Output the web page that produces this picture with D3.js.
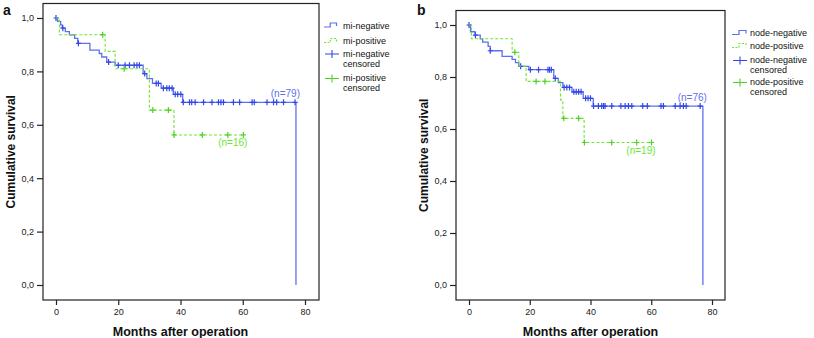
<!DOCTYPE html>
<html>
<head>
<meta charset="utf-8">
<script src="https://cdn.jsdelivr.net/npm/d3@7"></script>
<style>
body { margin: 0; background: #fff; }
svg { display: block; font-family: "Liberation Sans", Arial, Helvetica, sans-serif; }
</style>
</head>
<body>
<svg id="chart" width="814" height="338"></svg>
<script>
// values: [months, cumulative survival]
const xTicks = [0, 20, 40, 60, 80];
const yTicks = [0, 0.2, 0.4, 0.6, 0.8, 1.0];

// panel a - micrometastasis
const miNegSteps = [[0, 1], [0.5, 0.987], [1.5, 0.974], [2, 0.962], [3, 0.949], [4.3, 0.937], [6, 0.924], [7, 0.905],
    [10.9, 0.880], [13.9, 0.867], [14.7, 0.854], [16.3, 0.835], [19, 0.823], [28, 0.792], [29.2, 0.773], [31, 0.755],
    [33.8, 0.737], [37.7, 0.714], [40.7, 0.684], [77.1, 0]];
const miNegCensored = [0, 2.2, 7.2, 16.9, 20, 22.2, 23.6, 25.1, 26, 26.8, 28.5, 32.2, 32.9, 34.5, 35.6, 36.4, 37.3,
    38.3, 39.1, 40.1, 40.9, 42.9, 43.6, 44.7, 47.4, 50.1, 52.2, 53, 53.8, 57, 59, 63, 63.7, 67.8, 69.9, 70.9, 73.1, 76.8];
const miPosSteps = [[0, 1], [1.1, 0.9375], [15.8, 0.875], [19, 0.81], [30, 0.655], [37.9, 0.562]];
const miPosCensored = [15, 21.9, 31.1, 36.1, 37.9, 47, 55.2, 60.2];

// panel b - nodal status
const nodeNegSteps = [[0, 1], [0.5, 0.974], [2, 0.961], [3.7, 0.947], [4.5, 0.934], [6.3, 0.918], [7, 0.901],
    [10.9, 0.879], [14.2, 0.868], [15.3, 0.855], [16.4, 0.841], [19.7, 0.828], [27.9, 0.795], [29.4, 0.778],
    [30.9, 0.760], [33.9, 0.743], [37.6, 0.718], [40.9, 0.688], [77, 0]];
const nodeNegCensored = [0, 2.1, 7, 17, 20.2, 22.9, 26, 26.5, 27.1, 28.4, 31.3, 32.2, 33.1, 34.5, 35.3, 36.1, 36.9,
    38.4, 39.2, 40, 41, 42.6, 43.7, 44.3, 44.8, 47, 50, 51.4, 52.5, 53.6, 57.2, 58.7, 63.2, 64, 67.9, 69.5, 70.6, 71.5, 76.1];
const nodePosSteps = [[0, 1], [0.8, 0.947], [14.2, 0.895], [16.4, 0.842], [18.8, 0.783], [30.1, 0.712], [30.9, 0.641], [37.9, 0.548]];
const nodePosCensored = [15.1, 22.1, 25, 31.2, 36.1, 38, 47, 55.2, 60.1];

const panelLabels = ['a', 'b'];
const nLabels = [['(n=79)', '(n=16)'], ['(n=76)', '(n=19)']];
const legendA = ['mi-negative', 'mi-positive', 'mi-negative\ncensored', 'mi-positive\ncensored'];
const legendB = ['node-negative', 'node-positive', 'node-negative\ncensored', 'node-positive\ncensored'];

const BLUE = '#5f70ee', BLUE_MARK = '#3347e4';
const GREEN = '#6ee636', GREEN_MARK = '#4fd12a';
const fmt = v => d3.format('.1f')(v).replace('.', ',');

const svg = d3.select('#chart');

function survAt(steps, t) {
    let s = steps[0][1];
    steps.forEach(d => { if (d[0] <= t) s = d[1]; });
    return s;
}

function drawPanel(p) {
    const g = svg.append('g');
    const x = d3.scaleLinear().domain([0, 80]).range(p.xr);
    const y = d3.scaleLinear().domain([0, 1]).range(p.yr);

    g.append('rect')
        .attr('x', p.box[0]).attr('y', p.box[1])
        .attr('width', p.box[2] - p.box[0]).attr('height', p.box[3] - p.box[1])
        .attr('fill', 'none').attr('stroke', '#222').attr('stroke-width', 1.2);

    const ya = g.append('g')
        .attr('transform', `translate(${p.box[0]},0)`)
        .call(d3.axisLeft(y).tickValues(yTicks).tickFormat(fmt).tickSize(6).tickPadding(3));
    ya.select('.domain').remove();
    ya.selectAll('line').attr('stroke', '#222').attr('stroke-width', 1.2);
    ya.selectAll('text').attr('font-size', 9).attr('fill', '#222').attr('font-family', null);

    const xa = g.append('g')
        .attr('transform', `translate(0,${p.box[3]})`)
        .call(d3.axisBottom(x).tickValues(xTicks).tickSize(5).tickPadding(4));
    xa.select('.domain').remove();
    xa.selectAll('line').attr('stroke', '#222').attr('stroke-width', 1.2);
    xa.selectAll('text').attr('font-size', 9).attr('fill', '#222').attr('font-family', null);

    g.append('text')
        .attr('x', (p.xr[0] + p.xr[1]) / 2).attr('y', 335.5)
        .attr('text-anchor', 'middle').attr('font-weight', 'bold').attr('font-size', 12.5)
        .attr('fill', '#111')
        .text('Months after operation');

    g.append('text')
        .attr('transform', `translate(${p.ytitleX},${(p.box[1] + p.box[3]) / 2}) rotate(-90)`)
        .attr('text-anchor', 'middle').attr('font-weight', 'bold').attr('font-size', 12)
        .attr('fill', '#111')
        .text('Cumulative survival');

    g.append('text')
        .attr('x', p.labelX).attr('y', 15)
        .attr('font-weight', 'bold').attr('font-size', 14).attr('fill', '#111')
        .text(p.label);

    const line = d3.line().x(d => x(d[0])).y(d => y(d[1])).curve(d3.curveStepAfter);

    p.series.forEach(s => {
        const pts = s.steps.slice();
        const last = pts[pts.length - 1];
        if (s.end > last[0]) pts.push([s.end, last[1]]);
        g.append('path')
            .attr('d', line(pts))
            .attr('fill', 'none')
            .attr('stroke', s.color)
            .attr('stroke-width', s.dash ? 1.1 : 1.3)
            .attr('stroke-dasharray', s.dash ? '3,2' : null);

        g.append('g').selectAll('path')
            .data(s.censored)
            .join('path')
            .attr('d', t => {
                const cx = x(t), cy = y(survAt(s.steps, t));
                return `M${cx - 2.5},${cy}H${cx + 2.5}M${cx},${cy - 3}V${cy + 3}`;
            })
            .attr('stroke', s.mark)
            .attr('stroke-width', 1.2);

        const endS = survAt(s.steps, s.end - 0.01);
        g.append('text')
            .attr('x', x(s.end) + 4)
            .attr('y', y(endS) + (s.dash ? 11.5 : -5))
            .attr('text-anchor', 'end').attr('font-size', 10).attr('fill', s.color)
            .text(s.n);
    });

    // legend
    const lg = g.append('g').attr('transform', `translate(${p.legend[0]},${p.legend[1]})`);
    p.legendText.forEach((txt, i) => {
        const yy = p.rowY[i];
        const col = i % 2 === 0 ? BLUE : GREEN;
        if (i < 2) {
            lg.append('path')
                .attr('d', `M0,${yy + 2}H${p.sampleW * 0.5}V${yy - 2}H${p.sampleW}V${yy + 1}`)
                .attr('fill', 'none').attr('stroke', col).attr('stroke-width', 1.2)
                .attr('stroke-dasharray', i === 1 ? '2,1.5' : null);
        } else {
            lg.append('path')
                .attr('d', `M1,${yy + 1}H15M8,${yy - 3}V${yy + 5}`)
                .attr('stroke', i === 2 ? BLUE_MARK : GREEN_MARK).attr('stroke-width', 1.1);
        }
        txt.split('\n').forEach((part, k) => {
            lg.append('text')
                .attr('x', p.legendTextX).attr('y', yy + 3.5 + k * 10)
                .attr('font-size', 9).attr('fill', '#111')
                .text(part);
        });
    });
}

drawPanel({
    label: panelLabels[0], labelX: 3,
    xr: [56, 305], yr: [285, 18], box: [43, 3.5, 319, 300],
    ytitleX: 14.5,
    legend: [324, 25], legendTextX: 19, sampleW: 12.5, rowY: [0, 15.5, 28, 52.5], legendText: legendA,
    series: [
        { steps: miNegSteps, censored: miNegCensored, end: 77.1, color: BLUE, mark: BLUE_MARK, dash: false, n: nLabels[0][0] },
        { steps: miPosSteps, censored: miPosCensored, end: 60.2, color: GREEN, mark: GREEN_MARK, dash: true, n: nLabels[0][1] }
    ]
});

drawPanel({
    label: panelLabels[1], labelX: 417,
    xr: [469, 712], yr: [285, 25], box: [456, 10.5, 725, 300],
    ytitleX: 428,
    legend: [732, 32.5], legendTextX: 18, sampleW: 14, rowY: [0, 13, 27, 49], legendText: legendB,
    series: [
        { steps: nodeNegSteps, censored: nodeNegCensored, end: 77, color: BLUE, mark: BLUE_MARK, dash: false, n: nLabels[1][0] },
        { steps: nodePosSteps, censored: nodePosCensored, end: 60.1, color: GREEN, mark: GREEN_MARK, dash: true, n: nLabels[1][1] }
    ]
});
</script>
</body>
</html>
